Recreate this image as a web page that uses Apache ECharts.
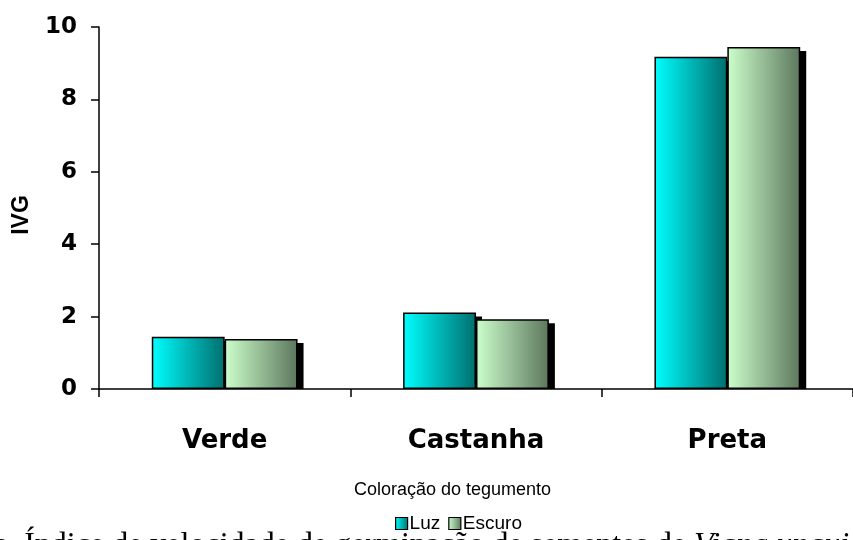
<!DOCTYPE html>
<html>
<head>
<meta charset="utf-8">
<script src="https://cdn.jsdelivr.net/npm/echarts@6/dist/echarts.min.js"></script>
<style>
  html, body { margin: 0; padding: 0; background: #ffffff; }
  #chart { width: 853px; height: 540px; }
</style>
</head>
<body>
<div id="chart"></div>
<script>
// Seed coat colour classes and germination speed index (IVG) per light condition
const categories = ['Verde', 'Castanha', 'Preta'];
const luzValues = [1.44, 2.11, 9.18];
const escuroValues = [1.38, 1.93, 9.45];
const seriesNames = ['Luz', 'Escuro'];
const yMin = 0;
const yMax = 10;
const yStep = 2;
const xAxisTitle = 'Coloração do tegumento';
const yAxisTitle = 'IVG';
const captionText = '2a. Índice de velocidade de germinação de sementes de ';
const captionItalic = 'Vigna unguiculata';

const BAR_FRACTION = 0.29;   // each bar's share of the category band
const SHADOW_DX = 6;
const SHADOW_DY = 4;

const chart = echarts.init(document.getElementById('chart'), null, { renderer: 'canvas' });

function hGrad(a, b) {
  return new echarts.graphic.LinearGradient(0, 0, 1, 0, [
    { offset: 0, color: a },
    { offset: 1, color: b }
  ]);
}

const barStyle = (a, b) => ({
  color: hGrad(a, b),
  borderColor: '#000000',
  borderWidth: 1.5
});

// Drop shadows behind each bar pair, clipped at the zero line
const shadowData = categories.map((c, i) => [i, luzValues[i], escuroValues[i]]);

function renderShadows(params, api) {
  const idx = api.value(0);
  const band = api.size([1, 0])[0];
  const bw = band * BAR_FRACTION;
  const base = api.coord([idx, 0]);
  const children = [];
  [api.value(1), api.value(2)].forEach((v, k) => {
    const top = api.coord([idx, v])[1];
    const x = base[0] - bw + k * bw;
    children.push({
      type: 'rect',
      shape: { x: x + SHADOW_DX, y: top + SHADOW_DY, width: bw, height: Math.max(0, base[1] - top - SHADOW_DY) },
      style: { fill: '#000000' }
    });
  });
  return { type: 'group', children };
}

const labelFont = 'DejaVu Sans';
const sansFont = 'Liberation Sans, Arial, sans-serif';

const option = {
  backgroundColor: '#ffffff',
  animation: false,
  textStyle: { fontFamily: sansFont, color: '#000' },
  grid: { left: 99, top: 27, width: 759, height: 362 },
  legend: {
    data: seriesNames,
    left: 395,
    top: 514,
    icon: 'rect',
    itemWidth: 12,
    itemHeight: 12,
    itemGap: 8,
    padding: 0,
    textStyle: { fontSize: 19, fontFamily: sansFont, color: '#000', padding: [0, 0, 0, -3] },
    itemStyle: { borderWidth: 1.2, borderColor: '#000' }
  },
  xAxis: {
    type: 'category',
    data: categories,
    axisLine: { lineStyle: { color: '#000', width: 1.5 } },
    axisTick: { show: true, length: 8, lineStyle: { color: '#000', width: 1.5 } },
    axisLabel: { fontSize: 26, fontWeight: 'bold', fontFamily: labelFont, color: '#000', margin: 39 },
    splitLine: { show: false }
  },
  yAxis: {
    type: 'value',
    min: yMin,
    max: yMax,
    interval: yStep,
    name: yAxisTitle,
    nameLocation: 'middle',
    nameGap: 66,
    nameTextStyle: { fontSize: 23, fontWeight: 'bold', color: '#000', fontFamily: sansFont, padding: [0, 14, 0, 0] },
    axisLine: { show: true, lineStyle: { color: '#000', width: 1.5 } },
    axisTick: { show: true, length: 8, lineStyle: { color: '#000', width: 1.5 } },
    axisLabel: { fontSize: 23, fontWeight: 'bold', fontFamily: labelFont, color: '#000', margin: 22 },
    splitLine: { show: false }
  },
  series: [
    {
      name: 'sombra',
      type: 'custom',
      z: 1,
      silent: true,
      data: shadowData,
      encode: { x: 0, y: [1, 2] },
      renderItem: renderShadows
    },
    {
      name: seriesNames[0],
      type: 'bar',
      z: 2,
      data: luzValues,
      barGap: '0%',
      barWidth: (BAR_FRACTION * 100) + '%',
      itemStyle: barStyle('#00ffff', '#006e6e')
    },
    {
      name: seriesNames[1],
      type: 'bar',
      z: 2,
      data: escuroValues,
      barGap: '0%',
      barWidth: (BAR_FRACTION * 100) + '%',
      itemStyle: barStyle('#ccffcc', '#5d775d')
    }
  ],
  graphic: [
    {
      type: 'text',
      left: 354,
      top: 481,
      style: {
        text: xAxisTitle,
        font: '18px "Liberation Sans", Arial, sans-serif',
        fill: '#000'
      }
    },
    {
      type: 'text',
      left: -22,
      top: 530,
      z: -1,
      style: {
        text: '{n|' + captionText + '}{i|' + captionItalic + '}',
        rich: {
          n: { font: '32px "Liberation Serif", "Times New Roman", serif', fill: '#000' },
          i: { font: 'italic 32px "Liberation Serif", "Times New Roman", serif', fill: '#000' }
        }
      }
    }
  ]
};

chart.setOption(option);
</script>
</body>
</html>
